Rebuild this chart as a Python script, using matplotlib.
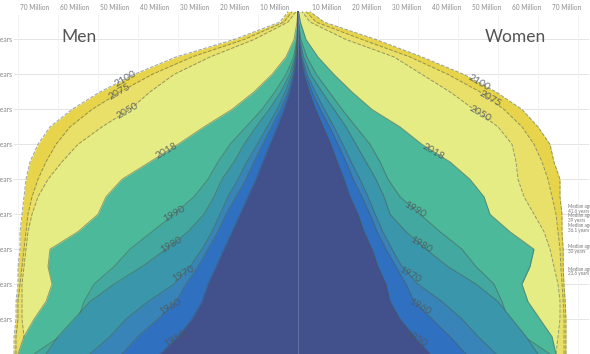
import numpy as np
import matplotlib
matplotlib.use("Agg")
import matplotlib.pyplot as plt

plt.rcParams['font.family'] = ['Lato', 'DejaVu Sans']

# ages (years) and population per single year of age, in millions
ages = [0, 5, 10, 15, 20, 25, 30, 35, 40, 45, 50, 55, 60, 65, 70, 75, 80, 85, 90, 95, 98]

men_1950 = [34.5, 30, 26.5, 24, 22.5, 20.5, 18.5, 16.5, 14.5, 12.5, 10.5, 8.8, 7, 5.2, 3.5, 2.1, 1.1, 0.45, 0.12, 0.02, 0.01]
men_1960 = [44, 40, 35, 30.5, 28, 25, 22.5, 20, 18, 15.5, 13, 11, 8.8, 6.6, 4.3, 2.5, 1.2, 0.45, 0.1, 0.02, 0.01]
men_1970 = [52, 47, 43, 37.5, 31, 27, 24, 21.5, 19.5, 17.5, 15, 12.8, 10.2, 7.7, 5.2, 3.2, 1.6, 0.6, 0.15, 0.03, 0.01]
men_1980 = [63, 60, 56, 52, 46, 39, 33, 27.5, 23.5, 21, 19, 16, 13.5, 10.5, 7.2, 4.3, 2.1, 0.8, 0.2, 0.04, 0.01]
men_1990 = [66, 59.5, 55, 53.5, 51, 46, 42, 36.5, 31, 26, 22.5, 20, 17, 13, 9, 5.8, 3, 1.1, 0.3, 0.06, 0.01]
men_2018 = [70, 68.5, 66, 63, 61.5, 62.5, 62, 55, 50, 48, 44, 37, 30, 23.5, 16.5, 11, 6.5, 3, 1, 0.25, 0.05]
men_2050 = [68, 68.5, 69, 69, 69, 68.5, 68, 67.5, 66.5, 65, 62.5, 59, 55, 49, 42, 37, 31, 22, 11, 2.5, 0.5]
men_2075 = [70.5, 70.5, 70, 70, 69.5, 69, 68.5, 68, 67.5, 66.5, 65, 63, 60.5, 57, 51.5, 44.5, 36.5, 26.5, 13.5, 3.5, 1.5]
men_2100 = [71, 71, 70.5, 70.5, 70, 70, 69.5, 69.5, 69, 68.5, 68, 67, 65, 62, 56.5, 49.5, 41, 30.5, 16, 4.5, 2.5]

women_1950 = [33, 29, 25.5, 23, 22, 20, 18.5, 16.5, 15, 13, 11.5, 9.8, 8.2, 6.3, 4.4, 2.8, 1.5, 0.65, 0.2, 0.04, 0.01]
women_1960 = [42, 38, 33.5, 29, 27, 24.5, 22, 19.8, 18, 16, 13.8, 12, 10, 7.9, 5.6, 3.5, 1.9, 0.8, 0.22, 0.04, 0.01]
women_1970 = [49.5, 45, 41, 36, 30, 26, 23.5, 21.2, 19.3, 17.5, 15.5, 13.3, 11.2, 9, 6.6, 4.3, 2.3, 1, 0.3, 0.06, 0.01]
women_1980 = [60, 57, 53.5, 50, 44.5, 37.5, 32, 27, 23, 21.5, 19.5, 17, 14.5, 12, 9, 6, 3.2, 1.4, 0.4, 0.08, 0.02]
women_1990 = [63, 56.5, 52.5, 51, 49, 44.5, 41, 35.5, 30.5, 25.5, 22.5, 20.5, 18, 14.5, 11, 7.8, 4.6, 2.2, 0.7, 0.15, 0.03]
women_2018 = [64.5, 63.5, 60.5, 57.5, 56, 58, 59, 53, 48, 46.5, 43, 38, 31, 25.5, 18.5, 13.5, 9, 5, 2, 0.6, 0.15]
women_2050 = [64.5, 65, 65.5, 65.5, 65, 64, 63, 61.5, 59, 56.5, 55, 54.5, 53.5, 50, 44, 38, 31, 24, 12, 3, 1]
women_2075 = [66.5, 66.5, 66.5, 66.3, 66, 65.7, 65.5, 65, 64.5, 63.5, 62.5, 61, 59, 56, 51.5, 45.5, 37.5, 28, 16, 4.5, 2]
women_2100 = [67, 67, 67, 66.8, 66.5, 66.3, 66.3, 66, 66, 65.5, 65.5, 64, 63, 60, 56, 49.5, 41.5, 31, 19.5, 6.5, 3]

years = [2100, 2075, 2050, 2018, 1990, 1980, 1970, 1960, 1950]
men = [men_2100, men_2075, men_2050, men_2018, men_1990, men_1980, men_1970, men_1960, men_1950]
women = [women_2100, women_2075, women_2050, women_2018, women_1990, women_1980, women_1970, women_1960, women_1950]
colors = ['#e7d44a', '#e9e06a', '#e6ec84', '#4cb99a', '#43a89f', '#3a96ab', '#3884b8', '#2f70c1', '#42508b']

median_ages = [41.6, 39, 36.1, 30, 23.6]
median_labels = ['41.6 years', '39 years', '36.1 years', '30 years', '23.6 years']

grid_ages = [10, 20, 30, 40, 50, 60, 70, 80, 90]
million_ticks = [10, 20, 30, 40, 50, 60, 70]

# where the year labels sit on each curve (age)
label_age_men = [78.7, 75, 69.5, 58, 40, 31.3, 23, 13.5, 4.3]
label_age_women = [77.6, 73, 68.7, 58, 41.4, 31.3, 22.7, 13.5, 4.3]

fig = plt.figure(figsize=(5.9, 3.54), dpi=100)
ax = fig.add_axes([0, 0, 1, 1])
ax.set_xlim(-74.5, 73)
ax.set_ylim(0, 101.3)
ax.axis('off')

# grid
for a in grid_ages:
    ax.plot([-71, 72.5], [a, a], color='#e4e4e4', lw=0.7, zorder=0)
    ax.text(-71.6, a, f'{a} years', ha='right', va='center', fontsize=4.8, color='#888888')
for v in million_ticks:
    ax.plot([-v, -v], [0, 97], color='#f1f1f1', lw=0.6, zorder=0)
    ax.plot([v, v], [0, 97], color='#f1f1f1', lw=0.6, zorder=0)
    ax.text(-v + 0.6, 99.1, f'{v} Million', ha='left', va='center', fontsize=4.7, color='#8a8a8a')
    ax.text(v + 0.9, 99.1, f'{v} Million', ha='right', va='center', fontsize=4.7, color='#8a8a8a')

for i, yr in enumerate(years):
    m = -np.array(men[i])
    w = np.array(women[i])
    ax.fill_betweenx(ages, m, 0, color=colors[i], lw=0, zorder=1 + i)
    ax.fill_betweenx(ages, 0, w, color=colors[i], lw=0, zorder=1 + i)
    ls = '--' if yr > 2018 else '-'
    ax.plot(m, ages, color='#4a5a55', lw=0.7, alpha=0.55, ls=ls, zorder=1 + i)
    ax.plot(w, ages, color='#4a5a55', lw=0.7, alpha=0.55, ls=ls, zorder=1 + i)

# centre line
ax.plot([0, 0], [0, 98], color='#6a78a8', lw=0.6, zorder=20)

# year labels
for i, yr in enumerate(years):
    xm = -np.interp(label_age_men[i], ages, men[i])
    xw = np.interp(label_age_women[i], ages, women[i])
    ax.text(xm, label_age_men[i], str(yr), rotation=30, ha='center', va='center',
            fontsize=7.5, color='#4f5860', alpha=0.85, zorder=30)
    ax.text(xw, label_age_women[i], str(yr), rotation=-30, ha='center', va='center',
            fontsize=7.5, color='#4f5860', alpha=0.85, zorder=30)

# median age notes
for a, lab in zip(median_ages, median_labels):
    ax.text(67.5, a, f'Median age\n{lab}', ha='left', va='center', fontsize=3.3,
            color='#777777', linespacing=0.95, zorder=30)

ax.text(-54.75, 90.8, 'Men', ha='center', va='center', fontsize=12.5, color='#555555')
ax.text(54.4, 90.8, 'Women', ha='center', va='center', fontsize=12.5, color='#555555')

fig.savefig('out.png', dpi=100)
